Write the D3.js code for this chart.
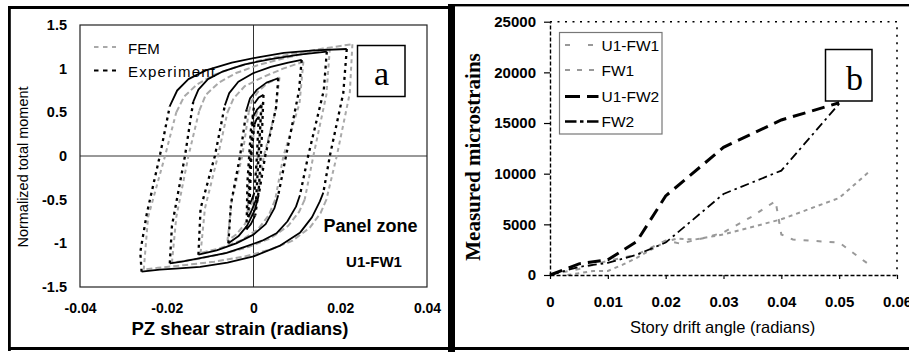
<!DOCTYPE html>
<html><head><meta charset="utf-8">
<script src="https://cdn.jsdelivr.net/npm/d3@7"></script>
<style>
body{margin:0;background:#fff;}
svg{display:block;font-family:"Liberation Sans",Arial,sans-serif;}
</style></head>
<body>
<svg id="c" width="909" height="352"></svg>
<script>
// ---------------- Panel a data ----------------
const aXTicks = [-0.04, -0.02, 0, 0.02, 0.04];
const aXTickLabels = ["-0.04", "-0.02", "0", "0.02", "0.04"];
const aYTicks = [-1.5, -1, -0.5, 0, 0.5, 1, 1.5];
const aYTickLabels = ["-1.5", "-1", "-0.5", "0", "0.5", "1", "1.5"];
const aLegend = ["FEM", "Experiment"];
// each loop = [unloading branch, lower curve, reloading branch, upper curve]; points [strain, normalized moment]
const expLoops = [
  [[[0.0215,1.225],[0.0207,0.72],[0.0176,0],[0.0161,-0.42]],
   [[0.0161,-0.42],[0.0153,-0.52],[0.0135,-0.70],[0.0107,-0.88],[0.006,-1.03],[0.0,-1.15],[-0.006,-1.22],[-0.0123,-1.27],[-0.018,-1.29],[-0.0216,-1.30],[-0.0258,-1.325]],
   [[-0.0258,-1.325],[-0.0261,-1.10],[-0.0246,-0.66],[-0.0216,0],[-0.0193,0.57]],
   [[-0.0193,0.57],[-0.0176,0.75],[-0.015,0.88],[-0.011,0.98],[-0.005,1.07],[0.001,1.13],[0.007,1.18],[0.014,1.21],[0.0215,1.225]]],
  [[[0.0169,1.195],[0.0162,0.75],[0.0126,0],[0.0107,-0.45]],
   [[0.0107,-0.45],[0.0098,-0.58],[0.0078,-0.75],[0.0053,-0.885],[0.002,-0.97],[-0.002,-1.04],[-0.0062,-1.11],[-0.0123,-1.17],[-0.0165,-1.21],[-0.0193,-1.23]],
   [[-0.0193,-1.23],[-0.0188,-0.8],[-0.0158,0],[-0.0139,0.62]],
   [[-0.0139,0.62],[-0.0127,0.76],[-0.0105,0.88],[-0.007,0.97],[-0.002,1.05],[0.004,1.11],[0.0105,1.16],[0.0169,1.195]]],
  [[[0.0111,1.10],[0.0105,0.75],[0.0075,0],[0.0057,-0.45]],
   [[0.0057,-0.45],[0.0048,-0.6],[0.0028,-0.78],[0.0,-0.9],[-0.004,-1.0],[-0.0085,-1.08],[-0.0127,-1.13]],
   [[-0.0127,-1.13],[-0.0122,-0.6],[-0.0089,0],[-0.0066,0.58]],
   [[-0.0066,0.58],[-0.0056,0.72],[-0.0035,0.85],[0.0,0.95],[0.004,1.02],[0.008,1.07],[0.0111,1.10]]],
  [[[0.0057,0.89],[0.0052,0.55],[0.0027,0],[0.0012,-0.45]],
   [[0.0012,-0.45],[0.0003,-0.62],[-0.0015,-0.8],[-0.0035,-0.92],[-0.0058,-1.0]],
   [[-0.0058,-1.0],[-0.0052,-0.55],[-0.0031,0],[-0.0016,0.53]],
   [[-0.0016,0.53],[-0.0008,0.66],[0.0008,0.76],[0.003,0.84],[0.0057,0.89]]],
  [[[0.0023,0.70],[0.0019,0.2],[0.0012,-0.4],[0.0004,-0.68]],
   [[0.0004,-0.68],[-0.0006,-0.78],[-0.0016,-0.84]],
   [[-0.0016,-0.84],[-0.0014,-0.3],[-0.0006,0.3],[0.0002,0.6]],
   [[0.0002,0.6],[0.0012,0.67],[0.0023,0.70]]],
  [[[0.0018,0.58],[0.0013,0.1],[0.0006,-0.5]],
   [[0.0006,-0.5],[-0.0004,-0.62],[-0.0012,-0.7]],
   [[-0.0012,-0.7],[-0.0008,-0.1],[-0.0001,0.45]],
   [[-0.0001,0.45],[0.0008,0.53],[0.0018,0.58]]],
  [[[0.0012,0.45],[0.0008,0],[0.0002,-0.42]],
   [[0.0002,-0.42],[-0.0004,-0.5],[-0.0009,-0.55]],
   [[-0.0009,-0.55],[-0.0005,0],[0.0002,0.36]],
   [[0.0002,0.36],[0.0007,0.42],[0.0012,0.45]]]
];
const femLoops = [
  [[[0.0228,1.28],[0.0222,0.72],[0.0192,0],[0.0168,-0.5]],
   [[0.0168,-0.5],[0.0155,-0.65],[0.013,-0.82],[0.009,-0.97],[0.004,-1.07],[-0.002,-1.15],[-0.009,-1.21],[-0.016,-1.25],[-0.022,-1.28],[-0.0253,-1.30]],
   [[-0.0253,-1.30],[-0.0243,-0.7],[-0.0204,0],[-0.0178,0.5]],
   [[-0.0178,0.5],[-0.016,0.68],[-0.013,0.82],[-0.009,0.93],[-0.004,1.02],[0.002,1.1],[0.009,1.17],[0.016,1.23],[0.0228,1.28]]],
  [[[0.0176,1.23],[0.0168,0.7],[0.0138,0],[0.0118,-0.5]],
   [[0.0118,-0.5],[0.0105,-0.64],[0.008,-0.8],[0.004,-0.94],[-0.001,-1.04],[-0.007,-1.12],[-0.013,-1.18],[-0.0188,-1.22]],
   [[-0.0188,-1.22],[-0.0178,-0.7],[-0.015,0],[-0.0125,0.52]],
   [[-0.0125,0.52],[-0.011,0.7],[-0.008,0.84],[-0.004,0.95],[0.001,1.04],[0.007,1.12],[0.0125,1.18],[0.0176,1.23]]],
  [[[0.0115,1.08],[0.0106,0.6],[0.0069,0],[0.005,-0.5]],
   [[0.005,-0.5],[0.0035,-0.68],[0.001,-0.84],[-0.003,-0.97],[-0.008,-1.06],[-0.0122,-1.11]],
   [[-0.0122,-1.11],[-0.0112,-0.6],[-0.0082,0],[-0.006,0.5]],
   [[-0.006,0.5],[-0.0046,0.66],[-0.002,0.8],[0.002,0.9],[0.0068,1.0],[0.0115,1.08]]],
  [[[0.006,0.9],[0.005,0.5],[0.0024,0],[0.0009,-0.45]],
   [[0.0009,-0.45],[-0.0001,-0.62],[-0.002,-0.78],[-0.004,-0.9],[-0.006,-0.97]],
   [[-0.006,-0.97],[-0.005,-0.5],[-0.0026,0],[-0.0011,0.5]],
   [[-0.0011,0.5],[-0.0004,0.63],[0.0011,0.74],[0.0031,0.83],[0.006,0.9]]],
  [[[0.002,0.6],[0.0012,0.1],[0.0,-0.5]],
   [[0.0,-0.5],[-0.0008,-0.6],[-0.0014,-0.66]],
   [[-0.0014,-0.66],[-0.0008,-0.1],[0.0005,0.45]],
   [[0.0005,0.45],[0.0012,0.55],[0.002,0.6]]]
];

// ---------------- Panel b data ----------------
const bXTicks = [0, 0.01, 0.02, 0.03, 0.04, 0.05, 0.06];
const bXTickLabels = ["0", "0.01", "0.02", "0.03", "0.04", "0.05", "0.06"];
const bYTicks = [0, 5000, 10000, 15000, 20000, 25000];
const bYTickLabels = ["0", "5000", "10000", "15000", "20000", "25000"];
const bSeriesNames = ["U1-FW1", "FW1", "U1-FW2", "FW2"];
const driftU1FW1 = [0, 0.005, 0.01, 0.015, 0.02, 0.0225, 0.027, 0.03, 0.035, 0.039, 0.04, 0.042, 0.05, 0.055];
const strainU1FW1 = [0, 600, 1400, 2000, 3400, 3100, 3700, 4200, 5800, 7300, 4000, 3500, 3200, 1100];
const driftFW1 = [0.003, 0.0075, 0.01, 0.0125, 0.015, 0.02, 0.022, 0.025, 0.03, 0.04, 0.05, 0.055];
const strainFW1 = [0, 400, 400, 1000, 1700, 3300, 3600, 3500, 4000, 5500, 7600, 10100];
const driftU1FW2 = [0, 0.005, 0.01, 0.015, 0.02, 0.03, 0.04, 0.05];
const strainU1FW2 = [0, 1100, 1500, 3300, 7800, 12600, 15300, 17000];
const driftFW2 = [0, 0.005, 0.01, 0.015, 0.02, 0.03, 0.04, 0.05];
const strainFW2 = [0, 800, 1200, 2000, 3200, 8000, 10300, 16900];

// ---------------- drawing ----------------
const svg = d3.select("#c");
svg.append("rect").attr("width", 909).attr("height", 352).attr("fill", "#fff");

// ===== Panel a =====
const xA = d3.scaleLinear().domain([-0.04, 0.04]).range([80, 427]);
const yA = d3.scaleLinear().domain([-1.5, 1.5]).range([287, 25]);
const gA = svg.append("g");

gA.append("line").attr("x1", 80).attr("x2", 427).attr("y1", yA(0)).attr("y2", yA(0)).attr("stroke", "#333").attr("stroke-width", 1);
gA.append("line").attr("x1", xA(0)).attr("x2", xA(0)).attr("y1", 25).attr("y2", 287).attr("stroke", "#333").attr("stroke-width", 1);

const lineA = d3.line().x(d => xA(d[0])).y(d => yA(d[1])).curve(d3.curveLinear);
femLoops.forEach(loop => loop.forEach((br, i) => {
  gA.append("path").attr("d", lineA(br)).attr("fill", "none")
    .attr("stroke", "#a9a9a9").attr("stroke-width", 2)
    .attr("stroke-dasharray", i % 2 === 0 ? "4,3.5" : "6,3");
}));
expLoops.forEach(loop => loop.forEach((br, i) => {
  gA.append("path").attr("d", lineA(br)).attr("fill", "none")
    .attr("stroke", "#000").attr("stroke-width", i % 2 === 0 ? 2.3 : 1.8)
    .attr("stroke-dasharray", i % 2 === 0 ? "3,4" : null)
    .attr("stroke-linejoin", "round");
}));

gA.append("rect").attr("x", 80).attr("y", 25).attr("width", 347).attr("height", 262)
  .attr("fill", "none").attr("stroke", "#222").attr("stroke-width", 1.2);

const axYA = d3.axisLeft(yA).tickValues(aYTicks).tickSize(0).tickPadding(13)
  .tickFormat((d, i) => aYTickLabels[i]);
const gyA = gA.append("g").attr("transform", "translate(80,0)").call(axYA);
gyA.select(".domain").remove();
gyA.selectAll("text").attr("font-size", 14.5).attr("font-weight", "bold").attr("fill", "#000")
  .attr("font-family", "Liberation Sans, Arial, sans-serif");

const axXA = d3.axisBottom(xA).tickValues(aXTicks).tickSize(0).tickPadding(16)
  .tickFormat((d, i) => aXTickLabels[i]);
const gxA = gA.append("g").attr("transform", "translate(0,287)").call(axXA);
gxA.select(".domain").remove();
gxA.selectAll("text").attr("font-size", 14).attr("font-weight", "bold").attr("fill", "#000")
  .attr("font-family", "Liberation Sans, Arial, sans-serif");

gA.append("text").attr("x", 240).attr("y", 334.5).attr("text-anchor", "middle")
  .attr("font-size", 18.5).attr("font-weight", "bold").text("PZ shear strain (radians)");
gA.append("text").attr("transform", "translate(28,167) rotate(-90)").attr("text-anchor", "middle")
  .attr("font-size", 14.5).text("Normalized total moment");

// legend a
gA.append("line").attr("x1", 94).attr("x2", 116).attr("y1", 47).attr("y2", 47)
  .attr("stroke", "#a9a9a9").attr("stroke-width", 2.2).attr("stroke-dasharray", "4.5,4.5");
gA.append("line").attr("x1", 94).attr("x2", 116).attr("y1", 70.5).attr("y2", 70.5)
  .attr("stroke", "#000").attr("stroke-width", 2.2).attr("stroke-dasharray", "4.5,4.5");
gA.append("text").attr("x", 128).attr("y", 53.5).attr("font-size", 15).text(aLegend[0]);
gA.append("text").attr("x", 128).attr("y", 76.5).attr("font-size", 15)
  .attr("textLength", 87).attr("lengthAdjust", "spacing").text(aLegend[1]);

// box a
gA.append("rect").attr("x", 357.5).attr("y", 45.5).attr("width", 47.5).attr("height", 51)
  .attr("fill", "#fff").attr("stroke", "#000").attr("stroke-width", 1.5);
gA.append("text").attr("x", 381.5).attr("y", 85).attr("text-anchor", "middle")
  .attr("font-family", "Liberation Serif, Times New Roman, serif").attr("font-size", 34).text("a");

gA.append("text").attr("x", 370.5).attr("y", 232).attr("text-anchor", "middle")
  .attr("font-size", 18).attr("font-weight", "bold").text("Panel zone");
gA.append("text").attr("x", 374).attr("y", 267).attr("text-anchor", "middle")
  .attr("font-size", 15).attr("font-weight", "bold").text("U1-FW1");

// ===== Panel b =====
const xB = d3.scaleLinear().domain([0, 0.06]).range([550, 897]);
const yB = d3.scaleLinear().domain([0, 25000]).range([275, 21.7]);
const gB = svg.append("g");

// dotted plot-area border (top & right)
gB.append("path").attr("d", `M${xB(0)},${yB(25000)}H${xB(0.06)}V${yB(0)}`)
  .attr("fill", "none").attr("stroke", "#000").attr("stroke-width", 1.6).attr("stroke-dasharray", "2,5.5");

const seriesB = [
  {name: bSeriesNames[0], x: driftU1FW1, y: strainU1FW1, color: "#999", w: 2, dash: "5,8"},
  {name: bSeriesNames[1], x: driftFW1, y: strainFW1, color: "#999", w: 2, dash: "4,4"},
  {name: bSeriesNames[2], x: driftU1FW2, y: strainU1FW2, color: "#000", w: 3, dash: "13,7"},
  {name: bSeriesNames[3], x: driftFW2, y: strainFW2, color: "#000", w: 1.8, dash: "9,4,2.5,4"}
];
const lineB = d3.line().x(d => xB(d[0])).y(d => yB(d[1]));
seriesB.forEach(s => {
  gB.append("path").attr("d", lineB(d3.zip(s.x, s.y))).attr("fill", "none")
    .attr("stroke", s.color).attr("stroke-width", s.w).attr("stroke-dasharray", s.dash);
});

const axYB = d3.axisLeft(yB).tickValues(bYTicks).tickSize(6).tickSizeOuter(0).tickPadding(8)
  .tickFormat((d, i) => bYTickLabels[i]);
const gyB = gB.append("g").attr("transform", `translate(${xB(0)},0)`).call(axYB);
gyB.select(".domain").attr("stroke-dasharray", "4,2").attr("stroke-width", 1.4);
gyB.selectAll("line").attr("stroke-width", 1.2);
gyB.selectAll("text").attr("font-size", 15).attr("font-weight", "bold").attr("fill", "#000")
  .attr("font-family", "Liberation Sans, Arial, sans-serif");

const axXB = d3.axisBottom(xB).tickValues(bXTicks).tickSize(4).tickSizeOuter(0).tickPadding(17)
  .tickFormat((d, i) => bXTickLabels[i]);
const gxB = gB.append("g").attr("transform", `translate(0,${yB(0)})`).call(axXB);
gxB.select(".domain").attr("stroke-dasharray", "4,2").attr("stroke-width", 1.4);
gxB.selectAll("line").attr("stroke-width", 1.2);
gxB.selectAll("text").attr("font-size", 15).attr("font-weight", "bold").attr("fill", "#000")
  .attr("font-family", "Liberation Sans, Arial, sans-serif");

gB.append("text").attr("x", 722.5).attr("y", 333).attr("text-anchor", "middle")
  .attr("font-size", 16.5).text("Story drift angle (radians)");
gB.append("text").attr("transform", "translate(480,157) rotate(-90)").attr("text-anchor", "middle")
  .attr("font-family", "Liberation Serif, Times New Roman, serif").attr("font-weight", "bold")
  .attr("font-size", 21).text("Measured microstrains");

// legend b
const lgB = gB.append("g");
lgB.append("rect").attr("x", 559.5).attr("y", 32.5).attr("width", 102.5).attr("height", 101.5)
  .attr("fill", "#fff").attr("stroke", "#777").attr("stroke-width", 1.2);
const legRowsY = [45, 70, 96.5, 121.5];
seriesB.forEach((s, i) => {
  lgB.append("line").attr("x1", 565).attr("x2", 598.5).attr("y1", legRowsY[i]).attr("y2", legRowsY[i])
    .attr("stroke", s.color).attr("stroke-width", s.w === 1.8 ? 2.4 : s.w)
    .attr("stroke-dasharray", [ "5,18", "5,7", "15,7", "11.5,3.5,3.5,3.5" ][i]);
  lgB.append("text").attr("x", 601.5).attr("y", legRowsY[i] + 5.8).attr("font-size", 15.5).text(s.name);
});

// box b
gB.append("rect").attr("x", 825.5).attr("y", 49.5).attr("width", 46.5).attr("height", 51.5)
  .attr("fill", "#fff").attr("stroke", "#000").attr("stroke-width", 1.5);
gB.append("text").attr("x", 854.5).attr("y", 90).attr("text-anchor", "middle")
  .attr("font-family", "Liberation Serif, Times New Roman, serif").attr("font-size", 34).text("b");

// ===== frames =====
const fr = svg.append("g").attr("fill", "#000");
fr.append("rect").attr("x", 8).attr("y", 6).attr("width", 441).attr("height", 3);
fr.append("rect").attr("x", 8).attr("y", 6).attr("width", 2.8).attr("height", 345);
fr.append("rect").attr("x", 455).attr("y", 4).attr("width", 454).attr("height", 2.4);
fr.append("rect").attr("x", 448).attr("y", 4).attr("width", 7).attr("height", 348);
fr.append("rect").attr("x", 8).attr("y", 347).attr("width", 901).attr("height", 3);
</script>
</body></html>
